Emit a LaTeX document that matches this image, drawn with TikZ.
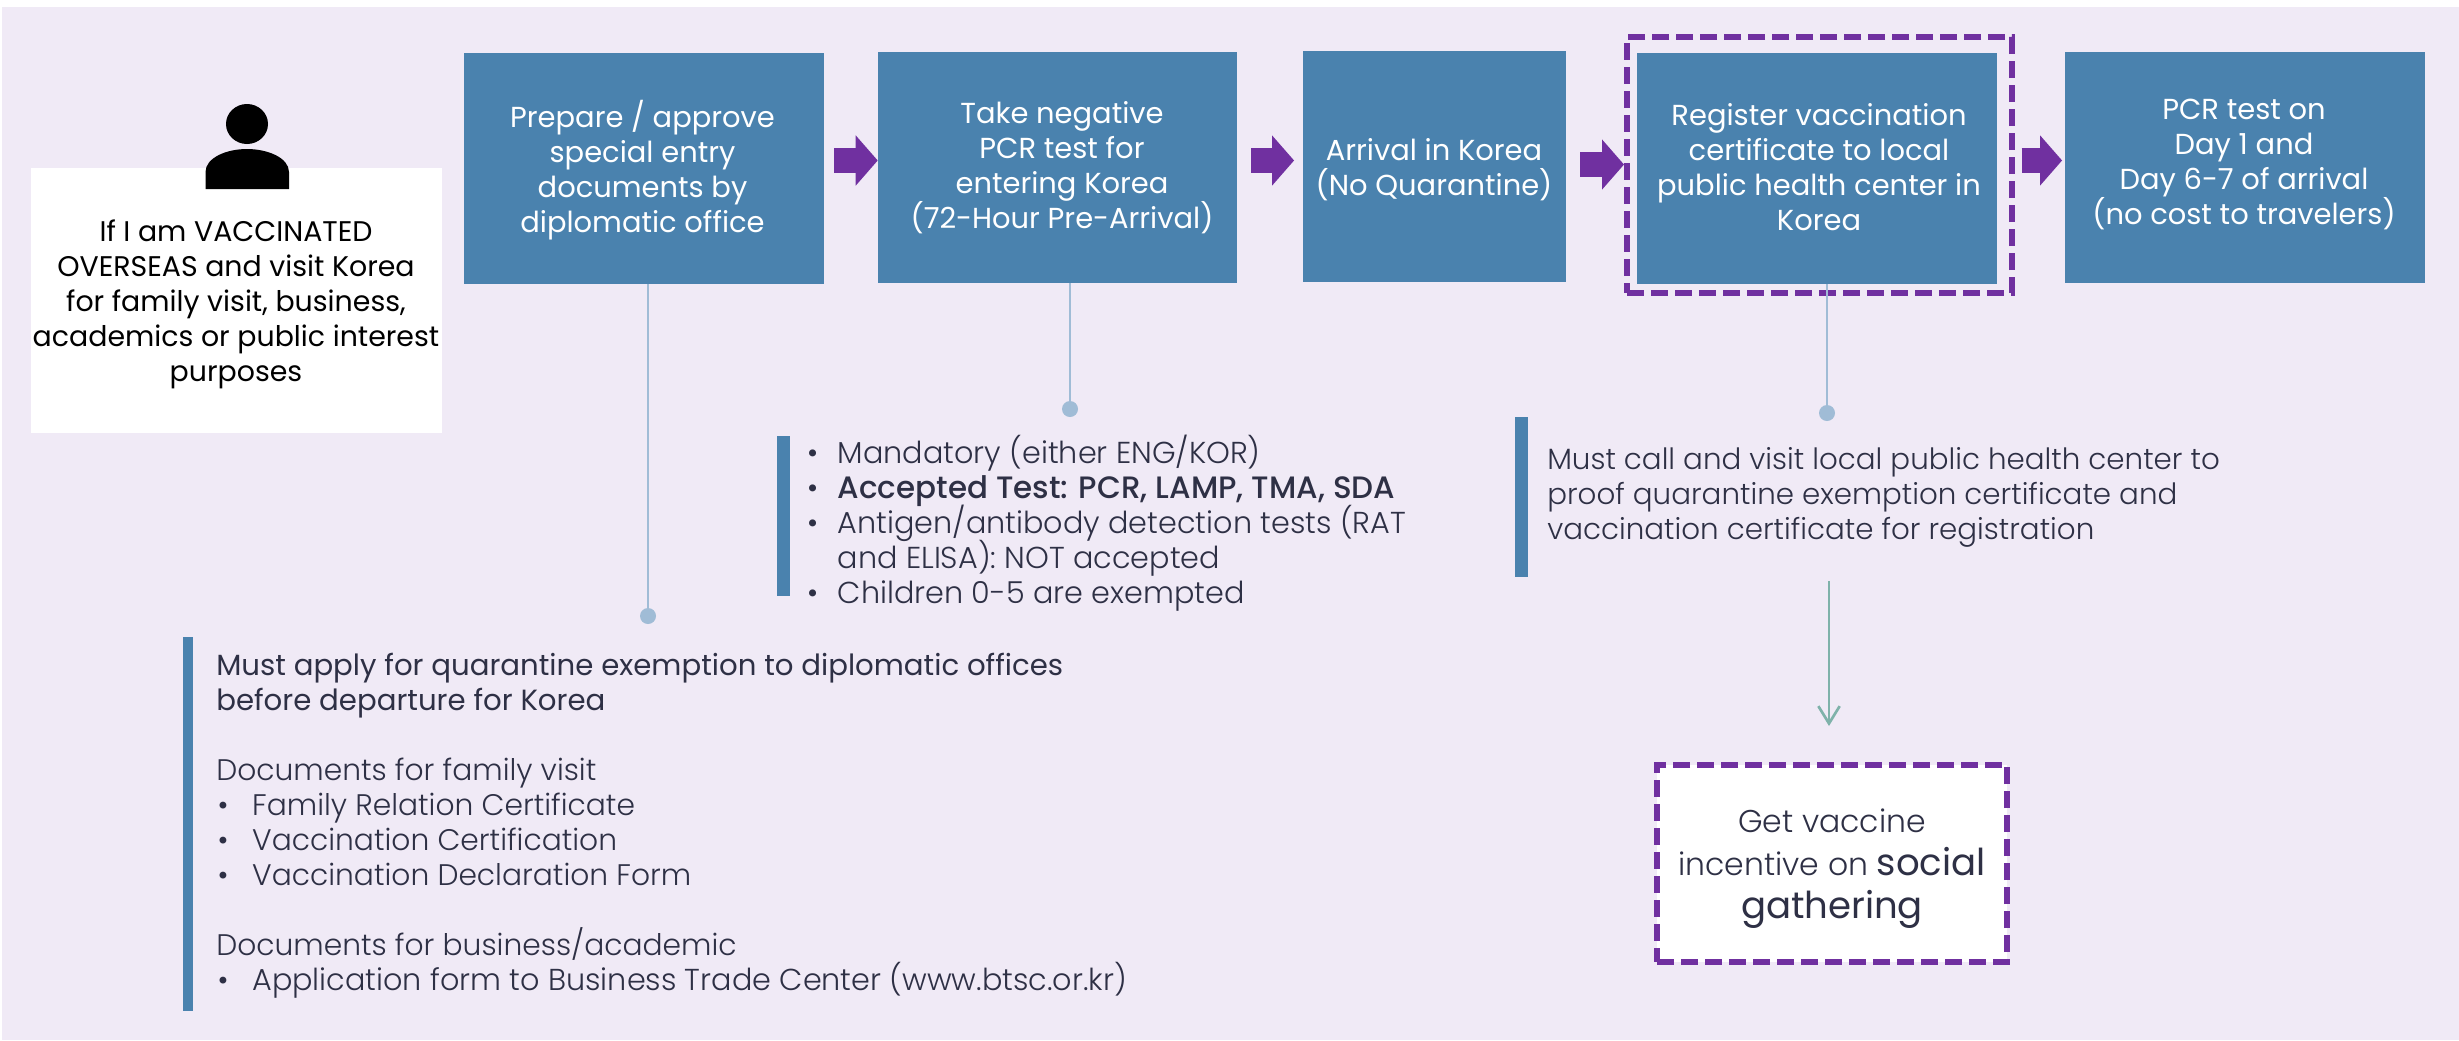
\documentclass[tikz,border=0pt]{standalone}
\usepackage{fontspec}
\setmainfont{Poppins}
\newfontfamily\lightfont{Poppins Light}
\newfontfamily\medfont{Poppins Medium}
\usetikzlibrary{positioning,calc,arrows.meta}
\lineskiplimit=-20pt
\definecolor{pagebg}{RGB}{240,234,246}
\definecolor{stepblu}{RGB}{74,130,174}
\definecolor{purp}{RGB}{112,48,160}
\definecolor{leadblu}{RGB}{160,188,214}
\definecolor{tealish}{RGB}{127,178,170}
\definecolor{inktext}{RGB}{46,48,69}
\newcommand{\itemline}[1]{\makebox[27pt][l]{\hspace{1pt}\textbullet}#1}
\newcommand{\hangline}[1]{\hspace*{27pt}#1}
\tikzset{
	stepbox/.style={fill=stepblu,inner sep=0pt},
	steptext/.style={text=white,align=center,inner sep=0pt,font=\fontsize{21.7}{26.25}\selectfont},
	dashbox/.style={draw=purp,line width=4.5pt,dash pattern=on 13pt off 5pt,inner sep=0pt},
	notetext/.style={anchor=north west,text=inktext,align=left,inner sep=0pt,font=\lightfont\fontsize{22.3}{26.25}\selectfont},
	flowarrow/.style={draw=purp,line width=18.5pt,-{Triangle[length=16.5pt,width=36.75pt]}},
	leadline/.style={draw=leadblu,line width=2pt},
	leaddot/.style={circle,fill=leadblu,inner sep=0pt,minimum size=12pt}
}
\begin{document}
\begin{tikzpicture}[x=0.75pt,y=0.75pt,yscale=-1,xscale=1]
	\useasboundingbox (0,0) rectangle (2459,1040);
	\fill [pagebg] (2,7) rectangle (2459,1040);

	%who this is for
	\node [fill=white,inner sep=0pt,minimum width=308.25pt,minimum height=198.75pt] (visitor) at (236.5,300.5) {};
	\node [steptext,text=black,font=\fontsize{21.3}{26.25}\selectfont] (visitortext) at (236,304.5) {If I am VACCINATED\\OVERSEAS and visit Korea\\for family visit, business,\\academics or public interest\\purposes};
	\fill [black] (247,124) ellipse (21 and 20);
	\fill [black] (205.5,189) -- (205.5,172) .. controls (205.5,158) and (226,149) .. (247,149) .. controls (268,149) and (289,158) .. (289,172) -- (289,189) -- cycle;

	%the steps
	\node [stepbox,minimum width=270pt,minimum height=173.25pt] (prepare) at (644,168.5) {};
	\node [steptext] (preparetext) at (642.5,170) {Prepare / approve\\special entry\\documents by\\diplomatic office};
	\node [stepbox,minimum width=269.25pt,minimum height=173.25pt] (pretest) at (1057.5,167.5) {};
	\node [steptext] (pretesttext) at (1062,168) {Take negative\\PCR test for\\entering Korea\\(72-Hour Pre-Arrival)};
	\node [stepbox,minimum width=197.25pt,minimum height=172.9pt] (arrival) at (1434.5,166.25) {};
	\node [steptext] (arrivaltext) at (1434,170) {Arrival in Korea\\(No Quarantine)};
	\node [stepbox,minimum width=270pt,minimum height=173.25pt] (register) at (1817,168.5) {};
	\node [steptext] (registertext) at (1819,167.5) {Register vaccination\\certificate to local\\public health center in\\Korea};
	\node [stepbox,minimum width=270pt,minimum height=173.25pt] (daytest) at (2245,167.5) {};
	\node [steptext] (daytesttext) at (2244,164) {PCR test on\\Day 1 and\\Day 6-7 of arrival\\(no cost to travelers)};
	\node [dashbox,minimum width=288.75pt,minimum height=192pt] (registerframe) at (1819.5,165) {};

	\draw [flowarrow,shorten <=7.5pt] ([yshift=-6pt]prepare.east) -- ([yshift=-6pt]prepare.east -| pretest.west);
	\draw [flowarrow,shorten <=10.5pt,shorten >=6.5pt] ([yshift=-5.25pt]pretest.east) -- ([yshift=-5.25pt]pretest.east -| arrival.west);
	\draw [flowarrow,shorten <=10.5pt] ([yshift=-1.3pt]arrival.east) -- ([yshift=-1.3pt]arrival.east -| registerframe.west);
	\draw [flowarrow,shorten <=5pt,shorten >=2pt] ([yshift=-3.4pt]registerframe.east) -- ([yshift=-3.4pt]registerframe.east -| daytest.west);

	%lead lines down to the notes
	\node [leaddot] (preparedot) at (648,616) {};
	\node [leaddot] (pretestdot) at (1070,409) {};
	\node [leaddot] (registerdot) at (1827,413) {};
	\draw [leadline] (prepare.south -| preparedot) -- (preparedot);
	\draw [leadline] (pretest.south -| pretestdot) -- (pretestdot);
	\draw [leadline] (register.south -| registerdot) -- (registerdot);

	%notes
	\fill [stepblu] (183,637) rectangle (193,1011);
	\node [notetext] (applynote) at (216,653) {{\rmfamily\fontsize{21.9}{26.25}\selectfont Must apply for quarantine exemption to diplomatic offices}\\{\rmfamily\fontsize{21.9}{26.25}\selectfont before departure for Korea}\\[26.25pt]Documents for family visit\\\itemline{Family Relation Certificate}\\\itemline{Vaccination Certification}\\\itemline{Vaccination Declaration Form}\\[26.25pt]Documents for business/academic\\\itemline{{\fontsize{22.7}{26.25}\selectfont Application form to Business Trade Center (www.btsc.or.kr)}}};
	\fill [stepblu] (777,436) rectangle (790,596);
	\node [notetext,font=\lightfont\fontsize{22.7}{26.25}\selectfont] (testnote) at (805.5,435) {\itemline{\hspace{-3pt}Mandatory (either ENG/KOR)}\\\itemline{\hspace{-3pt}{\medfont\fontsize{23.2}{26.25}\selectfont Accepted Test: PCR, LAMP, TMA, SDA}}\\\itemline{\hspace{-3pt}Antigen/antibody detection tests (RAT}\\\hangline{\hspace{-3pt}and ELISA): NOT accepted}\\\itemline{\hspace{-3pt}Children 0-5 are exempted}};
	\fill [stepblu] (1515,417) rectangle (1528,577);
	\node [notetext,font=\lightfont\fontsize{22}{26.25}\selectfont] (callnote) at (1547,447) {Must call and visit local public health center to\\proof quarantine exemption certificate and\\vaccination certificate for registration};

	%incentive
	\coordinate (incentivefrom) at (1829,581);
	\node [dashbox,fill=white,minimum width=262.5pt,minimum height=147.75pt] (incentive) at (1832,863.5) {};
	\node [text=inktext,align=center,inner sep=0pt,font=\lightfont\fontsize{23.6}{32.25}\selectfont] (incentivetext) at (1832,868.5) {Get vaccine\\incentive on {\rmfamily\fontsize{27.8}{32.25}\selectfont social}\\{\rmfamily\fontsize{27.8}{32.25}\selectfont gathering}};
	\coordinate (incentiveto) at (1829,726);
	\draw [draw=tealish,line width=2pt,-{Straight Barb[length=13pt,width=16pt]}] (incentivefrom) -- (incentiveto);
\end{tikzpicture}
\end{document}
